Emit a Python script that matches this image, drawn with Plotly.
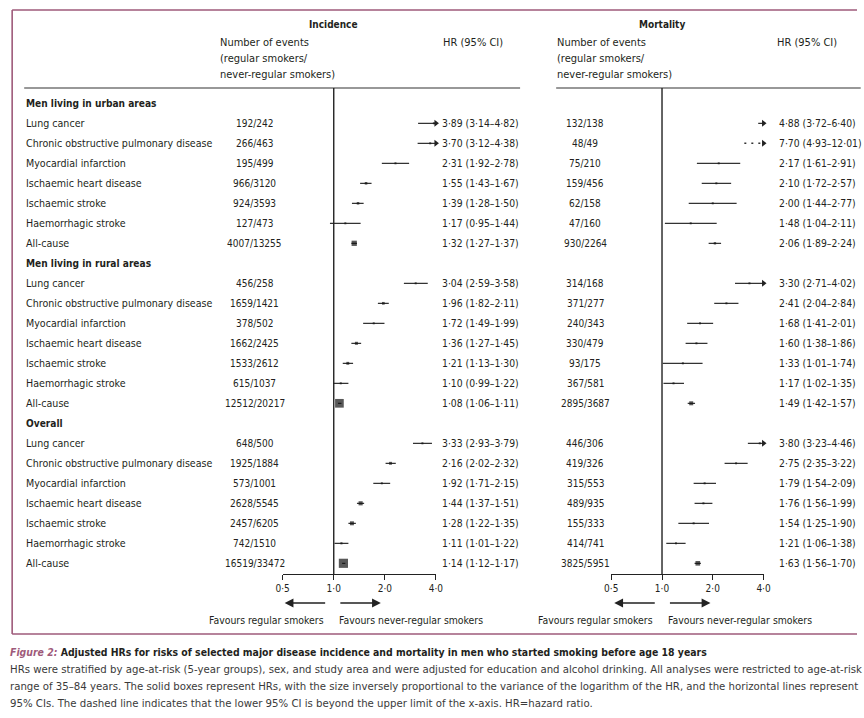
import numpy as np
import plotly.graph_objects as go

# ---------------- data ----------------
sections = ["Men living in urban areas", "Men living in rural areas", "Overall"]
outcomes = ["Lung cancer", "Chronic obstructive pulmonary disease", "Myocardial infarction",
            "Ischaemic heart disease", "Ischaemic stroke", "Haemorrhagic stroke", "All-cause"]

inc_events = ["192/242", "266/463", "195/499", "966/3120", "924/3593", "127/473", "4007/13255",
              "456/258", "1659/1421", "378/502", "1662/2425", "1533/2612", "615/1037", "12512/20217",
              "648/500", "1925/1884", "573/1001", "2628/5545", "2457/6205", "742/1510", "16519/33472"]
inc_hr = [3.89, 3.70, 2.31, 1.55, 1.39, 1.17, 1.32,
          3.04, 1.96, 1.72, 1.36, 1.21, 1.10, 1.08,
          3.33, 2.16, 1.92, 1.44, 1.28, 1.11, 1.14]
inc_lo = [3.14, 3.12, 1.92, 1.43, 1.28, 0.95, 1.27,
          2.59, 1.82, 1.49, 1.27, 1.13, 0.99, 1.06,
          2.93, 2.02, 1.71, 1.37, 1.22, 1.01, 1.12]
inc_hi = [4.82, 4.38, 2.78, 1.67, 1.50, 1.44, 1.37,
          3.58, 2.11, 1.99, 1.45, 1.30, 1.22, 1.11,
          3.79, 2.32, 2.15, 1.51, 1.35, 1.22, 1.17]

mort_events = ["132/138", "48/49", "75/210", "159/456", "62/158", "47/160", "930/2264",
               "314/168", "371/277", "240/343", "330/479", "93/175", "367/581", "2895/3687",
               "446/306", "419/326", "315/553", "489/935", "155/333", "414/741", "3825/5951"]
mort_hr = [4.88, 7.70, 2.17, 2.10, 2.00, 1.48, 2.06,
           3.30, 2.41, 1.68, 1.60, 1.33, 1.17, 1.49,
           3.80, 2.75, 1.79, 1.76, 1.54, 1.21, 1.63]
mort_lo = [3.72, 4.93, 1.61, 1.72, 1.44, 1.04, 1.89,
           2.71, 2.04, 1.41, 1.38, 1.01, 1.02, 1.42,
           3.23, 2.35, 1.54, 1.56, 1.25, 1.06, 1.56]
mort_hi = [6.40, 12.01, 2.91, 2.57, 2.77, 2.11, 2.24,
           4.02, 2.84, 2.01, 1.86, 1.74, 1.35, 1.57,
           4.46, 3.22, 2.09, 1.99, 1.90, 1.38, 1.70]

tick_vals = [0.5, 1, 2, 4]
tick_text = ["0·5", "1·0", "2·0", "4·0"]

# ---------------- layout helpers ----------------
W, H = 864, 718
FONT = "DejaVu Sans Condensed, sans-serif"
TXT = "#231f20"
FRAME = "#9e5a7a"
ROW0, ROWH = 103.3, 20.0          # pixel y of row 0 and row pitch
AX_TOP, AX_BOT = 88, 574           # pixel y of header rule / x-axis line
SX, OX = 0.982, 7.85               # horizontal placement correction observed in the viewer


def px(x):
    return (x - OX) / SX / W


def py(y):
    return 1 - y / H


def fmt(h, l, u):
    return f"{h:.2f} ({l:.2f}–{u:.2f})".replace(".", "·")


rows = [s * 8 + 1 + k for s in range(3) for k in range(7)]
section_rows = [s * 8 for s in range(3)]

fig = go.Figure()


def forest(xa, hr, lo, hi):
    xmax = tick_vals[-1]
    seg_x, seg_y, dash_x, dash_y = [], [], [], []
    arr_x, arr_y, box_x, box_y, box_s = [], [], [], [], []
    for r, h, l, u in zip(rows, hr, lo, hi):
        if l >= xmax:
            dash_x += [xmax / 1.3, xmax, None]
            dash_y += [r, r, None]
            arr_x.append(xmax)
            arr_y.append(r)
            continue
        seg_x += [l, min(u, xmax), None]
        seg_y += [r, r, None]
        if u > xmax:
            arr_x.append(xmax)
            arr_y.append(r)
        if h <= xmax:
            box_x.append(h)
            box_y.append(r)
            box_s.append(max(2.0, 0.40 / np.log(u / l)))
    fig.add_trace(go.Scatter(x=seg_x, y=seg_y, xaxis=xa, yaxis="y", mode="lines",
                             line=dict(color="#333", width=1.2), hoverinfo="skip",
                             showlegend=False, cliponaxis=False))
    fig.add_trace(go.Scatter(x=dash_x, y=dash_y, xaxis=xa, yaxis="y", mode="lines",
                             line=dict(color="#333", width=1.6, dash="2px,5px"), hoverinfo="skip",
                             showlegend=False, cliponaxis=False))
    fig.add_trace(go.Scatter(x=arr_x, y=arr_y, xaxis=xa, yaxis="y", mode="markers",
                             marker=dict(symbol="triangle-right", size=6, color="#222"),
                             hoverinfo="skip", showlegend=False, cliponaxis=False))
    fig.add_trace(go.Scatter(x=box_x, y=box_y, xaxis=xa, yaxis="y", mode="markers",
                             marker=dict(symbol="square", size=box_s, color="#111",
                                         line=dict(width=0)),
                             showlegend=False, cliponaxis=False))


forest("x", inc_hr, inc_lo, inc_hi)
forest("x2", mort_hr, mort_lo, mort_hi)

ann = []


def text(x, y, s, xanchor="left", size=10.6, bold=False, color=TXT, yref="paper",
         xref="paper", family=FONT):
    if bold:
        s = f"<b>{s}</b>"
    ann.append(dict(x=x, y=y, xref=xref, yref=yref, text=s, showarrow=False,
                    xanchor=xanchor, yanchor="middle", align=xanchor, borderpad=0,
                    font=dict(family=family, size=size, color=color)))


# column headers
text(px(334), py(24), "Incidence", "center", bold=True, size=10)
text(px(662), py(24), "Mortality", "center", bold=True, size=10)
for xh in (219, 556):
    text(px(xh), py(43), "Number of events", size=11)
    text(px(xh), py(59), "(regular smokers/", size=11)
    text(px(xh), py(75), "never-regular smokers)", size=11)
text(px(442), py(43), "HR (95% CI)", size=11)
text(px(775), py(43), "HR (95% CI)", size=11)

# row labels and numbers
for s, r in zip(sections, section_rows):
    text(px(26), r, s, bold=True, yref="y", size=10.1)
for i, r in enumerate(rows):
    text(px(26), r, outcomes[i % 7], yref="y")
    text(px(255), r, inc_events[i], "center", yref="y", size=10)
    text(px(585), r, mort_events[i], "center", yref="y", size=10)
    text(px(441), r, fmt(inc_hr[i], inc_lo[i], inc_hi[i]), yref="y", size=10.3)
    text(px(777), r, fmt(mort_hr[i], mort_lo[i], mort_hi[i]), yref="y", size=10.3)

# favours labels and arrows
for x1 in (333, 662):
    text(px(x1 - 8), py(620), "Favours regular smokers", "right", size=10.4)
    text(px(x1 + 5), py(620), "Favours never-regular smokers", "left", size=10.4)
    ann.append(dict(x=px(x1 - 48), y=py(603), xref="paper", yref="paper", ax=42, ay=0,
                    text="", showarrow=True, arrowhead=2, arrowsize=1.1, arrowwidth=1.6,
                    arrowcolor="#222"))
    ann.append(dict(x=px(x1 + 48), y=py(603), xref="paper", yref="paper", ax=-42, ay=0,
                    text="", showarrow=True, arrowhead=2, arrowsize=1.1, arrowwidth=1.6,
                    arrowcolor="#222"))

# caption
cap_lines = [
    "HRs were stratified by age-at-risk (5-year groups), sex, and study area and were adjusted for education and alcohol drinking. All analyses were restricted to age-at-risk",
    "range of 35–84 years. The solid boxes represent HRs, with the size inversely proportional to the variance of the logarithm of the HR, and the horizontal lines represent",
    "95% CIs. The dashed line indicates that the lower 95% CI is beyond the upper limit of the x-axis. HR=hazard ratio.",
]
text(px(10), py(652),
     f"<span style='color:{FRAME}'><i>Figure 2:</i></span> Adjusted HRs for risks of selected major disease incidence and mortality in men who started smoking before age 18 years",
     bold=True, size=10.4)
for k, line in enumerate(cap_lines):
    text(px(10), py(669 + 17 * k), line, size=11.3, color="#3a3a3a")

frame_line = dict(color=FRAME, width=1.6)
shapes = [
    # frame (open on the right, as in the source page)
    dict(type="line", xref="paper", yref="paper", x0=px(13), x1=1, y0=py(10), y1=py(10), line=frame_line),
    dict(type="line", xref="paper", yref="paper", x0=px(13), x1=1, y0=py(634), y1=py(634), line=frame_line),
    dict(type="line", xref="paper", yref="paper", x0=px(13), x1=px(13), y0=py(10), y1=py(634), line=frame_line),
    # header rules
    dict(type="line", xref="paper", yref="paper", x0=px(25), x1=px(520), y0=py(AX_TOP), y1=py(AX_TOP),
         line=dict(color="#333", width=1.2)),
    dict(type="line", xref="paper", yref="paper", x0=px(556), x1=px(860), y0=py(AX_TOP), y1=py(AX_TOP),
         line=dict(color="#333", width=1.2)),
    # no-effect lines at HR = 1
    dict(type="line", xref="x", yref="y domain", x0=1, x1=1, y0=0, y1=1,
         line=dict(color="#222", width=1.4)),
    dict(type="line", xref="x2", yref="y domain", x0=1, x1=1, y0=0, y1=1,
         line=dict(color="#222", width=1.4)),
]

xaxis_common = dict(type="log", range=[np.log10(tick_vals[0]), np.log10(tick_vals[-1])],
                    tickvals=tick_vals, ticktext=tick_text, showline=True, linecolor="#222",
                    linewidth=1.2, ticks="outside", ticklen=5, tickcolor="#222", tickwidth=1.2,
                    showgrid=False, zeroline=False, anchor="y",
                    tickfont=dict(family=FONT, size=10, color=TXT), fixedrange=True)

fig.update_layout(
    width=W, height=H, margin=dict(l=0, r=0, t=0, b=0),
    paper_bgcolor="white", plot_bgcolor="white",
    xaxis=dict(domain=[px(283), px(436)], **xaxis_common),
    xaxis2=dict(domain=[px(611), px(763)], **xaxis_common),
    yaxis=dict(domain=[py(AX_BOT), py(AX_TOP)],
               range=[(AX_BOT - ROW0) / ROWH, (AX_TOP - ROW0) / ROWH],
               visible=False, fixedrange=True),
    annotations=ann, shapes=shapes, showlegend=False,
)

fig.write_html("out.html", config={"displayModeBar": False},
               post_script="document.body.style.margin='0';document.body.style.overflow='hidden';")
